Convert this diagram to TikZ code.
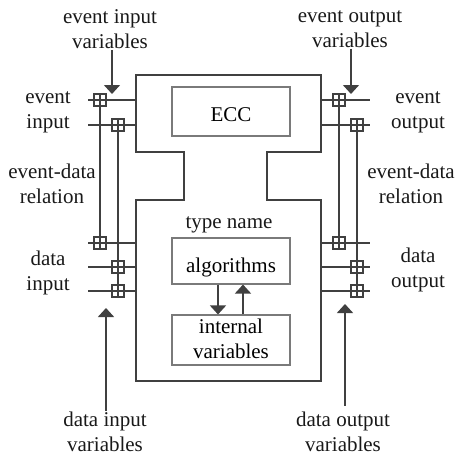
\documentclass[tikz,border=0pt]{standalone}
\usepackage{fontspec}
\setmainfont{Liberation Serif}
\usetikzlibrary{arrows.meta}

\definecolor{linegray}{HTML}{404040}
\definecolor{boxgray}{HTML}{7A7A7A}
\newcommand\lblfont{\fontsize{21}{25}\selectfont}

\begin{document}
\begin{tikzpicture}[x=1pt,y=-1pt,
    wire/.style={draw=linegray, line width=1.5pt},
    tap/.style={draw=linegray, line width=1.4pt, minimum size=12pt, inner sep=0pt,
        path picture={\draw[linegray, line width=1.4pt]
            (path picture bounding box.north) -- (path picture bounding box.south)
            (path picture bounding box.west) -- (path picture bounding box.east);}},
    inbox/.style={draw=boxgray, line width=1.1pt, minimum width=118pt, inner sep=0pt, font=\lblfont},
    lbl/.style={align=center, font=\lblfont, inner sep=1pt, text=black!90},
    arr/.style={draw=linegray, line width=1.5pt, -{Triangle[width=16pt,length=9pt]}}]

        \useasboundingbox (0,0) rectangle (456,456);

        \coordinate (bodyW) at (136,0);
        \coordinate (bodyE) at (321,0);

        % Function block outline
        \draw[draw=linegray, line width=2pt] (136,75) -- (321,75) -- (321,152) -- (267,152) -- (267,200)
            -- (321,200) -- (321,381) -- (136,381) -- (136,200) -- (184,200) -- (184,152) -- (136,152) -- cycle;

        % Inner parts
        \node[inbox, minimum height=49pt, text height=20pt, text depth=0pt] (ecc) at (231,111.5) {ECC};
        \node[lbl] (tname) at (229,225) {type name};
        \node[inbox, minimum height=46pt, text height=22pt, text depth=0pt] (algo) at (231,261) {algorithms};
        \node[inbox, minimum height=50pt, align=center, text depth=2pt] (intvar) at (231,340) {internal\\variables};

        \draw[arr] ([xshift=-13pt]algo.south) -- ([xshift=-13pt]intvar.north);
        \draw[arr] ([xshift=12pt]intvar.north) -- ([xshift=12pt]algo.south);

        % Pins
        \coordinate (ei1) at (88,100);
        \coordinate (ei2) at (88,125);
        \coordinate (di1) at (88,243);
        \coordinate (di2) at (88,267);
        \coordinate (di3) at (88,291);
        \coordinate (eo1) at (370,100);
        \coordinate (eo2) at (370,125);
        \coordinate (do1) at (370,243);
        \coordinate (do2) at (370,267);
        \coordinate (do3) at (370,291);

        % With-connections
        \foreach \p/\x/\y in {qEI1/100/100, qEI2/118/125, qDI1/100/243, qDI2/118/267, qDI3/118/291,
                              qEO1/339/100, qEO2/357/125, qDO1/339/243, qDO2/357/267, qDO3/357/291}
            \node[tap] (\p) at (\x,\y) {};

        \foreach \a/\q in {ei1/qEI1, ei2/qEI2, di1/qDI1, di2/qDI2, di3/qDI3}
            \draw[wire] (\a) -- (\q) -- (\a -| bodyW);
        \foreach \a/\q in {eo1/qEO1, eo2/qEO2, do1/qDO1, do2/qDO2, do3/qDO3}
            \draw[wire] (\a -| bodyE) -- (\q) -- (\a);

        \draw[wire] (qEI1) -- (qDI1);
        \draw[wire] (qEI2) -- (qDI2) -- (qDI3);
        \draw[wire] (qEO1) -- (qDO1);
        \draw[wire] (qEO2) -- (qDO2) -- (qDO3);

        % Labels
        \node[lbl] (eivlbl) at (110,29) {event input\\variables};
        \node[lbl] (eovlbl) at (350,29) {event output\\variables};
        \node[lbl] (eilbl) at (48,112) {event\\input};
        \node[lbl] (eolbl) at (418,112) {event\\output};
        \node[lbl] (edlL) at (52,184) {event-data\\relation};
        \node[lbl] (edlR) at (411,184) {event-data\\relation};
        \node[lbl] (dilbl) at (48,273) {data\\input};
        \node[lbl] (dolbl) at (418,270) {data\\output};
        \node[lbl] (divlbl) at (105,432) {data input\\variables};
        \node[lbl] (dovlbl) at (343,432) {data output\\variables};

        % Variable arrows
        \coordinate (eivtip) at (112,94);
        \coordinate (eovtip) at (351,94);
        \coordinate (divtip) at (106,308);
        \coordinate (dovtip) at (345,304);
        \draw[arr] (eivlbl.south -| eivtip) -- (eivtip);
        \draw[arr] (eovlbl.south -| eovtip) -- (eovtip);
        \draw[arr] (divlbl.north -| divtip) -- (divtip);
        \draw[arr] ([yshift=5pt]dovlbl.north -| dovtip) -- (dovtip);
\end{tikzpicture}
\end{document}
